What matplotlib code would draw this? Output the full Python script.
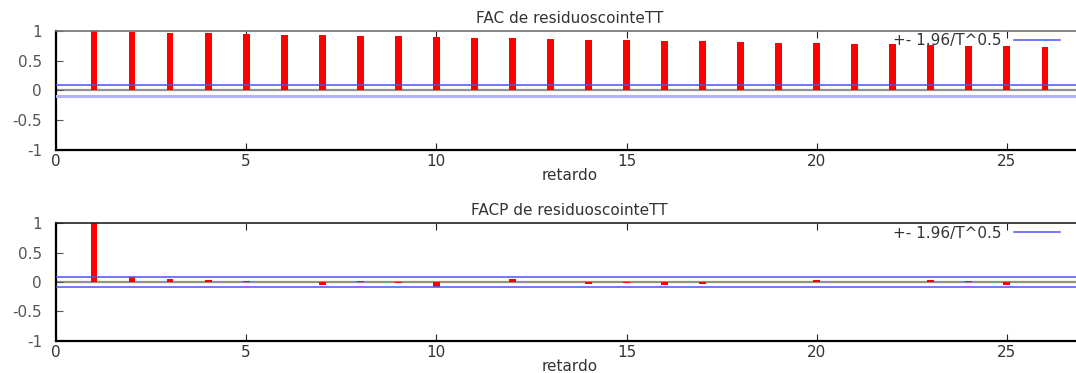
import numpy as np
import matplotlib
matplotlib.use('Agg')
import matplotlib.pyplot as plt

# correlogram data
lags = list(range(1, 27))
fac = [1.0, 0.985, 0.97, 0.96, 0.95, 0.94, 0.93, 0.92, 0.91, 0.895,
       0.885, 0.875, 0.865, 0.855, 0.845, 0.835, 0.825, 0.815, 0.805, 0.795,
       0.785, 0.775, 0.765, 0.75, 0.745, 0.73]
facp = [1.0, 0.08, 0.05, 0.03, 0.02, -0.005, -0.05, 0.025, -0.015, -0.08,
        0.003, 0.045, 0.003, -0.03, -0.02, -0.05, -0.04, -0.005, 0.0, 0.03,
        -0.005, 0.002, 0.03, 0.015, -0.055, 0.0]
band = 0.09  # 1.96/T^0.5
titles = ['FAC de residuoscointeTT', 'FACP de residuoscointeTT']
yticks = [-1, -0.5, 0, 0.5, 1]
ytick_labels = ['-1', '-0.5', '0', '0.5', '1']

plt.rcParams['font.family'] = 'DejaVu Sans'
fs = 11

fig = plt.figure(figsize=(10.76, 3.73), dpi=100)
ax1 = fig.add_axes([0.052, 0.598, 0.9545, 0.319])
ax2 = fig.add_axes([0.052, 0.086, 0.9545, 0.316])

for ax, vals, title, light in [(ax1, fac, titles[0], True), (ax2, facp, titles[1], False)]:
    ax.axhline(0, color='#909090', lw=1.6, zorder=1)
    ax.bar(lags, vals, width=0.18, color='#ff0000', zorder=2)
    l, = ax.plot([0, 27], [band, band], color='#5050ff', lw=1.1, zorder=3,
                 label='+- 1.96/T^0.5')
    if light:
        ax.plot([0, 27], [-band, -band], color='#b0b4ff', lw=2.2, zorder=3)
    else:
        ax.plot([0, 27], [-band, -band], color='#5050ff', lw=1.1, zorder=3)
    ax.set_xlim(0, 27)
    ax.set_ylim(-1, 1)
    ax.set_xticks([0, 5, 10, 15, 20, 25])
    ax.set_yticks(yticks)
    ax.set_yticklabels(ytick_labels)
    ax.tick_params(direction='in', top=True, right=True, length=5,
                   labelsize=fs, colors='#222222', labelcolor='#333333')
    ax.tick_params(axis='x', pad=3)
    ax.tick_params(axis='y', colors='#555555', pad=10)
    for s in ['left', 'bottom']:
        ax.spines[s].set_color('black')
        ax.spines[s].set_linewidth(1.6)
    ax.spines['top'].set_color('#707070' if light else '#222222')
    ax.spines['top'].set_linewidth(1.2)
    ax.spines['right'].set_visible(False)
    ax.set_title(title, fontsize=fs, pad=6, color='#333333')
    ax.set_xlabel('retardo', fontsize=fs, labelpad=-1, color='#333333')
    leg = ax.legend(handles=[l], loc='upper right', bbox_to_anchor=(0.991, 1.095),
                    frameon=False, markerfirst=False, fontsize=fs, handlelength=3.0,
                    handletextpad=0.8)
    for t in leg.get_texts():
        t.set_color('#333333')

fig.savefig('out.png', dpi=100)
